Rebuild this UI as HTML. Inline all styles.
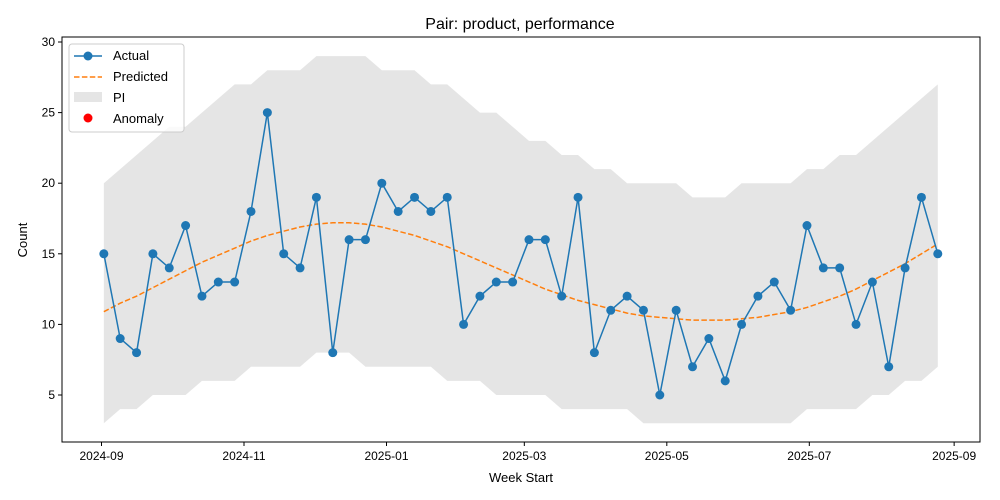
<!DOCTYPE html>
<html><head><meta charset="utf-8"><style>
body{margin:0;background:#fff;font-family:"Liberation Sans","DejaVu Sans",sans-serif;}
svg{display:block}
</style></head><body>
<svg id="chart" width="1000" height="500" xmlns="http://www.w3.org/2000/svg"></svg>
<script>
const startDate = "2024-09-02";
const actual = [15,9,8,15,14,17,12,13,13,18,25,15,14,19,8,16,16,20,18,19,18,19,10,12,13,13,16,16,12,19,8,11,12,11,5,11,7,9,6,10,12,13,11,17,14,14,10,13,7,14,19,15];
const predicted = [10.9,11.5,12.0,12.6,13.2,13.8,14.4,14.9,15.4,15.9,16.3,16.6,16.9,17.1,17.2,17.2,17.1,16.9,16.6,16.3,15.9,15.5,15.0,14.5,14.0,13.5,13.0,12.5,12.1,11.7,11.4,11.1,10.8,10.6,10.5,10.4,10.3,10.3,10.3,10.4,10.5,10.7,10.9,11.2,11.6,12.0,12.5,13.1,13.7,14.3,15.0,15.7];
const upper = [20,21,22,23,24,24,25,26,27,27,28,28,28,29,29,29,29,28,28,28,27,27,26,25,25,24,23,23,22,22,21,21,20,20,20,20,19,19,19,20,20,20,20,21,21,22,22,23,24,25,26,27];
const lower = [3,4,4,5,5,5,6,6,6,7,7,7,7,8,8,8,7,7,7,7,7,6,6,6,5,5,5,5,4,4,4,4,4,3,3,3,3,3,3,3,3,3,3,4,4,4,4,5,5,6,6,7];
const xTickLabels = ["2024-09","2024-11","2025-01","2025-03","2025-05","2025-07","2025-09"];
const yTicks = [5,10,15,20,25,30];

const NS="http://www.w3.org/2000/svg";
const svg=document.getElementById('chart');
const L=62,R=980,T=37,B=442;
const origin=Date.UTC(2024,8,1);
function dayOf(s){const p=s.split('-').map(Number);return (Date.UTC(p[0],p[1]-1,p[2]||1)-origin)/86400000;}
function xs(d){return 101.5+d*2.336;}
function ys(v){return 395-(v-5)*14.12;}
function el(tag,attrs,parent){const e=document.createElementNS(NS,tag);for(const k in attrs)e.setAttribute(k,attrs[k]);(parent||svg).appendChild(e);return e;}
const d0=dayOf(startDate);
const px=actual.map((_,i)=>xs(d0+7*i));

const title=el('text',{x:520,y:29,'text-anchor':'middle','font-size':16,fill:'#000'});


title.textContent='Pair: product, performance';

let pts=px.map((x,i)=>x+','+ys(upper[i])).concat(px.map((x,i)=>x+','+ys(lower[i])).reverse());
const band=el('polygon',{points:pts.join(' '),fill:'#000','fill-opacity':0.1,stroke:'none'});



const pl=el('polyline',{points:px.map((x,i)=>x+','+ys(predicted[i])).join(' '),fill:'none',stroke:'#ff7f0e','stroke-width':1.5,'stroke-dasharray':'5.5,2.4'});



const al=el('polyline',{points:px.map((x,i)=>x+','+ys(actual[i])).join(' '),fill:'none',stroke:'#1f77b4','stroke-width':1.5});


actual.forEach((v,i)=>{
  const c=el('circle',{cx:px[i],cy:ys(v),r:4.5,fill:'#1f77b4'});
  
  
});

const frame=el('rect',{x:L,y:T,width:R-L,height:B-T,fill:'none',stroke:'#000','stroke-width':1});



xTickLabels.forEach(s=>{
  const x=xs(dayOf(s));
  el('line',{x1:x,x2:x,y1:B,y2:B+4,stroke:'#000'});
  const t=el('text',{x:x,y:B+18,'text-anchor':'middle','font-size':12});
  
  
  t.textContent=s;
});
yTicks.forEach(v=>{
  const y=ys(v);
  el('line',{x1:L-4,x2:L,y1:y,y2:y,stroke:'#000'});
  const t=el('text',{x:L-7,y:y+4,'text-anchor':'end','font-size':12});
  
  
  t.textContent=v;
});
const xt=el('text',{x:521,y:482,'text-anchor':'middle','font-size':13});


xt.textContent='Week Start';
const yt=el('text',{x:27,y:240,'text-anchor':'middle','font-size':13,transform:'rotate(-90 27 240)'});


yt.textContent='Count';

const lg=el('g',{});


el('rect',{x:69,y:44,width:115,height:88,rx:3,fill:'#fff','fill-opacity':0.8,stroke:'#ccc'},lg);
el('line',{x1:74,x2:102,y1:56,y2:56,stroke:'#1f77b4','stroke-width':1.5},lg);
el('circle',{cx:88,cy:56,r:4.5,fill:'#1f77b4'},lg);
el('line',{x1:74,x2:102,y1:77,y2:77,stroke:'#ff7f0e','stroke-width':1.5,'stroke-dasharray':'5.5,2.4'},lg);
el('rect',{x:74,y:92,width:28,height:10,fill:'#000','fill-opacity':0.1},lg);
el('circle',{cx:88,cy:118,r:4.5,fill:'#ff0000'},lg);
[['Actual',60],['Predicted',81],['PI',102],['Anomaly',123]].forEach(a=>{
  const t=el('text',{x:113,y:a[1],'font-size':13},lg);
  
  
  t.textContent=a[0];
});
</script>
</body></html>
